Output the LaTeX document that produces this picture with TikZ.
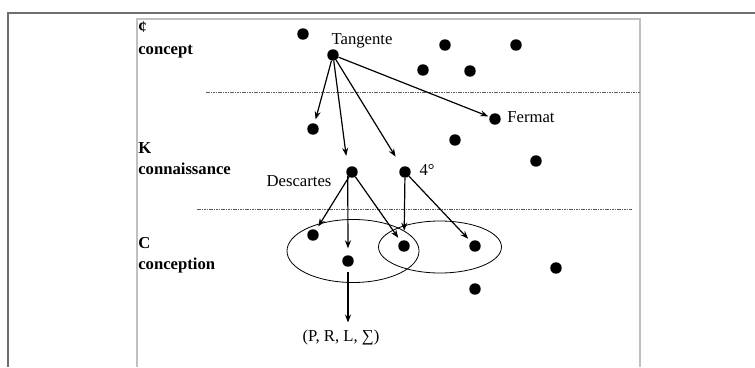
\documentclass[tikz,border=0pt]{standalone}
\usepackage{fontspec}
\setmainfont{Liberation Serif}
\usetikzlibrary{positioning, arrows.meta, calc}
\definecolor{frameDark}{RGB}{110, 110, 110}
\definecolor{frameLight}{RGB}{192, 192, 192}
\definecolor{sepGrey}{RGB}{90, 90, 90}

\begin{document}
\begin{tikzpicture}[x=0.75pt, y=-0.75pt,
          dot/.style={circle, fill=black, inner sep=0pt, minimum width=8pt, minimum height=8.6pt},
          lbl/.style={font=\fontsize{12.5}{15}\selectfont, inner sep=0pt},
          lvl/.style={font=\fontsize{12.5}{15}\selectfont\bfseries, inner sep=0pt, anchor=west},
          arr/.style={-{Stealth[length=6pt, width=4.5pt]}, line width=0.9pt, shorten >=3pt},
          sep/.style={densely dashed, dash pattern=on 1.2pt off 0.6pt, line width=0.6pt, color=sepGrey}]
        \useasboundingbox (0,0) rectangle (755,367);
        % frames
        \draw[frameDark, line width=1.2pt] (8,367) -- (8,13) -- (755,13);
        \draw[frameLight, line width=0.9pt] (137,367) -- (137,19) -- (640,19) -- (640,367);
        % levels
        \node[lvl] (cptA) at (138,27) {¢};
        \node[lvl] (cptB) at (138,52) {concept};
        \node[lvl] (conA) at (138,148) {K};
        \node[lvl] (conB) at (138,169) {connaissance};
        \node[lvl] (cnpA) at (138,243) {C};
        \node[lvl] (cnpB) at (138,265) {conception};
        \draw[sep] (206,92) -- (640,92);
        \draw[sep] (197,209) -- (632,209);
        % concept
        \node[dot] (c1) at (303,34) {};
        \node[dot] (tan) at (333,55) {};
        \node[lbl] (tanL) at (362,41) {Tangente};
        \node[dot] (c2) at (445,45) {};
        \node[dot] (c3) at (516,45) {};
        \node[dot] (c4) at (423,70) {};
        \node[dot] (c5) at (470,71) {};
        % connaissance
        \node[dot] (ferm) at (495,119) {};
        \node[lbl] (fermL) at (531,117) {Fermat};
        \node[dot] (k1) at (313,129) {};
        \node[dot] (k2) at (455,140) {};
        \node[dot] (k3) at (536,161) {};
        \node[dot] (desc) at (352,172) {};
        \node[lbl] (descL) at (299,181) {Descartes};
        \node[dot] (quat) at (405,172) {};
        \node[lbl] (quatL) at (427,170) {4°};
        % conception
        \draw[line width=0.6pt] (353,251) ellipse [x radius=66, y radius=31.5];
        \draw[line width=0.6pt] (440,247) ellipse [x radius=61.5, y radius=26];
        \node[dot] (p1) at (313,235) {};
        \node[dot] (p2) at (348,261) {};
        \node[dot] (p3) at (404,246) {};
        \node[dot] (p4) at (475,246) {};
        \node[dot] (p5) at (556,268) {};
        \node[dot] (p6) at (475,289) {};
        \node[lbl] (prls) at (341,337) {(P, R, L, ∑)};
        % arrows
        \draw[arr] (tan) -- (k1);
        \draw[arr, shorten >=9pt] (tan) -- (desc.north west);
        \draw[arr, shorten >=9pt] (tan) -- (quat);
        \draw[arr, shorten >=1pt] (tan) -- (ferm);
        \draw[arr] (desc) -- (p1);
        \draw[arr, shorten >=5pt] (desc.south west) -- (p2);
        \draw[arr] (desc) -- (p3);
        \draw[arr, shorten >=7pt] (quat) -- (p3);
        \draw[arr] (quat) -- (p4);
        \draw[arr, shorten <=4pt, shorten >=5pt] (p2) -- (prls.north -| p2);
      \end{tikzpicture}
\end{document}
